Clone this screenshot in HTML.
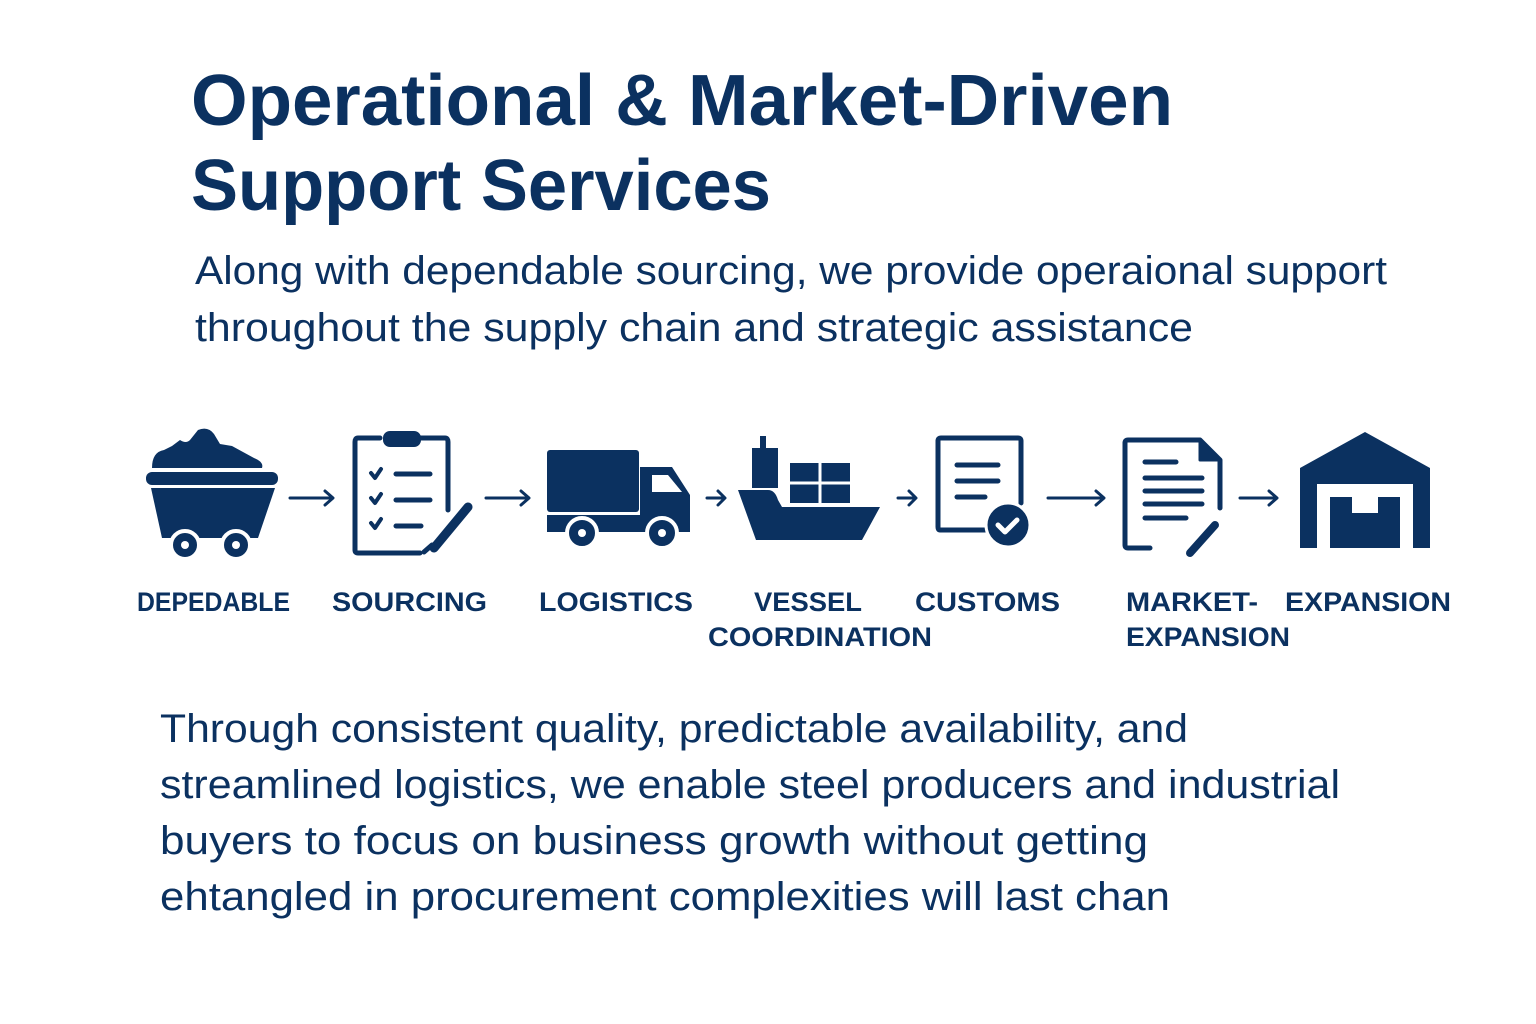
<!DOCTYPE html>
<html><head><meta charset="utf-8"><style>body{margin:0;background:#fff}svg{display:block}</style></head><body>
<svg width="1536" height="1024" viewBox="0 0 1536 1024" xmlns="http://www.w3.org/2000/svg">
<rect width="1536" height="1024" fill="#fff"/>
<g fill="#0b3160" font-family="Liberation Sans, sans-serif">
<text x="191" y="125" font-size="72" font-weight="bold" textLength="982" lengthAdjust="spacingAndGlyphs">Operational &amp; Market-Driven</text>
<text x="191" y="210" font-size="72" font-weight="bold" textLength="580" lengthAdjust="spacingAndGlyphs">Support Services</text>
<text x="195" y="284" font-size="40" textLength="1192" lengthAdjust="spacingAndGlyphs">Along with dependable sourcing, we provide operaional support</text>
<text x="195" y="341" font-size="40" textLength="998" lengthAdjust="spacingAndGlyphs">throughout the supply chain and strategic assistance</text>
<text x="160" y="742" font-size="40" textLength="1028" lengthAdjust="spacingAndGlyphs">Through consistent quality, predictable availability, and</text>
<text x="160" y="798" font-size="40" textLength="1180" lengthAdjust="spacingAndGlyphs">streamlined logistics, we enable steel producers and industrial</text>
<text x="160" y="854" font-size="40" textLength="988" lengthAdjust="spacingAndGlyphs">buyers to focus on business growth without getting</text>
<text x="160" y="910" font-size="40" textLength="1010" lengthAdjust="spacingAndGlyphs">ehtangled in procurement complexities will last chan</text>
<g font-size="27" font-weight="bold">
<text x="137" y="611" textLength="153" lengthAdjust="spacingAndGlyphs">DEPEDABLE</text>
<text x="332" y="611" textLength="155" lengthAdjust="spacingAndGlyphs">SOURCING</text>
<text x="539" y="611" textLength="154" lengthAdjust="spacingAndGlyphs">LOGISTICS</text>
<text x="754" y="611" textLength="108" lengthAdjust="spacingAndGlyphs">VESSEL</text>
<text x="708" y="646" textLength="224" lengthAdjust="spacingAndGlyphs">COORDINATION</text>
<text x="915" y="611" textLength="145" lengthAdjust="spacingAndGlyphs">CUSTOMS</text>
<text x="1126" y="611" textLength="132" lengthAdjust="spacingAndGlyphs">MARKET-</text>
<text x="1126" y="646" textLength="164" lengthAdjust="spacingAndGlyphs">EXPANSION</text>
<text x="1285" y="611" textLength="166" lengthAdjust="spacingAndGlyphs">EXPANSION</text>
</g>
</g>
<g fill="#0b3160" stroke="none">
<path d="M152 468 Q152 452 164 450 L172 446 L180 440 Q186 444 190 440 L198 430 Q208 426 214 434 L220 444 L232 446 L254 458 Q264 462 262 468 Z"/>
<rect x="146" y="472" width="132" height="13" rx="6"/>
<path d="M151 488 L275 488 L258 538 L162 538 Z"/>
<circle cx="185" cy="545" r="14" stroke="#fff" stroke-width="4"/><circle cx="185" cy="545" r="4" fill="#fff"/>
<circle cx="236" cy="545" r="14" stroke="#fff" stroke-width="4"/><circle cx="236" cy="545" r="4" fill="#fff"/>
<rect x="547" y="450" width="92" height="62" rx="3"/>
<path d="M640 467 L672 467 L690 495 L690 532 L547 532 L547 515 L640 515 Z"/>
<path d="M652 475 L668 475 L682 492 L652 492 Z" fill="#fff"/>
<circle cx="582" cy="533" r="15" stroke="#fff" stroke-width="4"/><circle cx="582" cy="533" r="4" fill="#fff"/>
<circle cx="662" cy="533" r="15" stroke="#fff" stroke-width="4"/><circle cx="662" cy="533" r="4" fill="#fff"/>
<rect x="760" y="436" width="6" height="14"/>
<rect x="752" y="448" width="26" height="40"/>
<rect x="790" y="463" width="60" height="40"/>
<path d="M790 483 H850 M820 463 V503" stroke="#fff" stroke-width="3"/>
<path d="M738 490 L768 490 Q775 490 778 500 L782 507 L880 507 L862 540 L756 540 Z"/>
<path d="M1300 468 L1365 432 L1430 468 L1430 548 L1413 548 L1413 484 L1317 484 L1317 548 L1300 548 Z"/>
<path d="M1330 497 L1352 497 L1352 513 L1378 513 L1378 497 L1400 497 L1400 548 L1330 548 Z"/>
</g>
<g fill="none" stroke="#0b3160" stroke-linecap="round" stroke-linejoin="round">
<path d="M380 438 L358 438 Q355 438 355 442 L355 550 Q355 553 358 553 L420 553 M448 510 L448 442 Q448 438 445 438 L420 438" stroke-width="5"/>
<rect x="384" y="432" width="36" height="14" rx="6" fill="#0b3160" stroke-width="2"/>
<path d="M371 473 l4 5 l6 -9 M371 498 l4 5 l6 -9 M371 523 l4 5 l6 -9" stroke-width="4"/>
<path d="M396 474 H430 M396 500 H430 M396 526 H421" stroke-width="5"/>
<path d="M468 507 L434 548" stroke-width="9"/>
<path d="M432 545 L424 552" stroke-width="5"/>
<path d="M990 530 L940 530 Q938 530 938 527 L938 441 Q938 438 941 438 L1018 438 Q1021 438 1021 441 L1021 503" stroke-width="5"/>
<path d="M957 465 H998 M957 481 H998 M957 497 H985" stroke-width="5"/>
<circle cx="1008" cy="525" r="22" fill="#0b3160" stroke="#fff" stroke-width="3"/>
<path d="M998 525 l7 7 l12 -12" stroke="#fff" stroke-width="5"/>
<path d="M1150 548 L1128 548 Q1125 548 1125 545 L1125 443 Q1125 440 1128 440 L1200 440 L1220 460 L1220 508" stroke-width="5"/>
<path d="M1200 440 L1200 460 L1220 460 Z" fill="#0b3160" stroke-width="3"/>
<path d="M1145 462 H1176 M1145 478 H1202 M1145 491 H1202 M1145 504 H1202 M1145 518 H1186" stroke-width="5"/>
<path d="M1215 525 L1190 553" stroke-width="8"/>
<path d="M290 498 H332 M325 491 L333 498 L325 505" stroke-width="3"/>
<path d="M486 498 H528 M521 491 L529 498 L521 505" stroke-width="3"/>
<path d="M707 498 H724 M718 491 L725 498 L718 505" stroke-width="3"/>
<path d="M898 498 H915 M909 491 L916 498 L909 505" stroke-width="3"/>
<path d="M1048 498 H1103 M1096 491 L1104 498 L1096 505" stroke-width="3"/>
<path d="M1240 498 H1276 M1269 491 L1277 498 L1269 505" stroke-width="3"/>
</g>
</svg>
</body></html>
